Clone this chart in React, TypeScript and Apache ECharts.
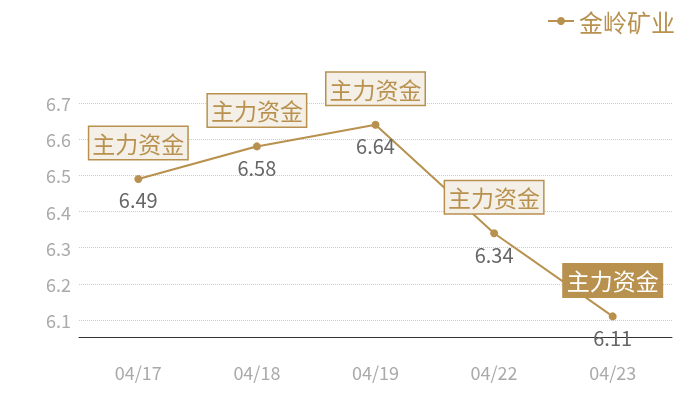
import React, { useEffect, useRef } from "react";
import * as echarts from "echarts";

const categories = ["04/17", "04/18", "04/19", "04/22", "04/23"];
const prices = [6.49, 6.58, 6.64, 6.34, 6.11];
const flagText = "主力资金";
const seriesName = "金岭矿业";

const GOLD = "#b8914f";
const FONT = "Noto Sans CJK SC";

export default function App() {
  const ref = useRef<HTMLDivElement>(null);

  useEffect(() => {
    if (!ref.current) return;
    const chart = echarts.init(ref.current, null, { renderer: "svg" });

    // Flag boxes above each point; the latest one is filled
    const flagData = categories.map((c, i) => {
      const last = i === categories.length - 1;
      return {
        coord: [c, prices[i]],
        label: {
          show: true,
          formatter: flagText,
          color: last ? "#ffffff" : GOLD,
          backgroundColor: last ? GOLD : "#f4efe7",
          borderColor: GOLD,
          borderWidth: 1.5,
        },
      };
    });

    chart.setOption({
      animation: false,
      textStyle: { fontFamily: FONT },
      legend: {
        right: 20,
        top: 4,
        itemWidth: 26,
        itemHeight: 10,
        itemGap: 8,
        textStyle: { color: GOLD, fontSize: 24, fontFamily: FONT },
        data: [seriesName],
      },
      grid: { left: 79, right: 28, top: 103, bottom: 80 },
      xAxis: {
        type: "category",
        data: categories,
        boundaryGap: true,
        offset: 17,
        axisLine: { show: true, lineStyle: { color: "#333333", width: 1 } },
        axisTick: { show: false },
        axisLabel: { color: "#aaaaaa", fontSize: 18, margin: 26, fontFamily: FONT },
      },
      yAxis: {
        type: "value",
        min: 6.1,
        max: 6.7,
        interval: 0.1,
        axisLine: { show: false },
        axisTick: { show: false },
        axisLabel: {
          color: "#aaaaaa",
          fontSize: 18,
          margin: 8,
          fontFamily: FONT,
          formatter: (v: number) => v.toFixed(1),
        },
        splitLine: { show: true, lineStyle: { color: "#cccccc", type: "dotted", width: 1 } },
      },
      series: [
        {
          name: seriesName,
          type: "line",
          data: prices,
          symbol: "circle",
          symbolSize: 8,
          lineStyle: { color: GOLD, width: 2 },
          itemStyle: { color: GOLD },
          label: {
            show: true,
            position: "bottom",
            distance: 7,
            color: "#666666",
            fontSize: 20,
            fontFamily: FONT,
            formatter: (p: any) => p.value.toFixed(2),
          },
          markPoint: {
            symbol: "circle",
            symbolSize: 0,
            z: 10,
            label: {
              show: true,
              position: "inside",
              offset: [0, -36],
              fontSize: 23,
              fontFamily: FONT,
              padding: [5, 3, 4, 3],
            },
            data: flagData,
          },
        },
      ],
    });

    return () => chart.dispose();
  }, []);

  return (
    <div
      ref={ref}
      style={{ position: "fixed", left: 0, top: 0, width: 700, height: 400 }}
    />
  );
}
